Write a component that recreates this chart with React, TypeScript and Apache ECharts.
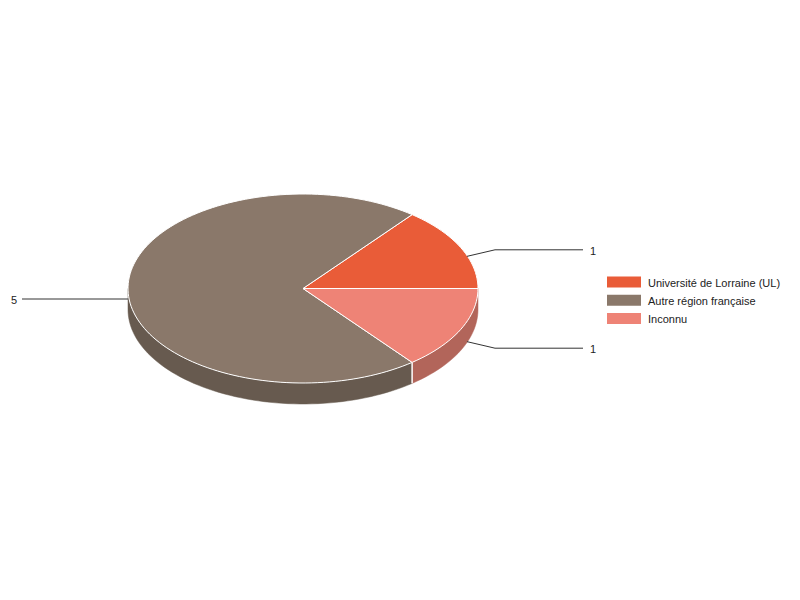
import { useEffect, useRef } from 'react'
import * as echarts from 'echarts'

// données
const categories = ['Université de Lorraine (UL)', 'Autre région française', 'Inconnu']
const values = [1, 5, 1]
const topColors = ['#E95C38', '#8A786A', '#EE8376']
const sideColors = ['#AF452A', '#675A4F', '#B2655A']

// géométrie du camembert 3D
const CX = 303
const CY = 288.5
const RX = 175
const RY = 94.5
const DEPTH = 21

const total = values.reduce((a, b) => a + b, 0)
const starts: number[] = []
values.reduce((acc, v) => { starts.push(acc); return acc + v }, 0)

const pt = (deg: number, dy = 0): number[] => {
  const r = (deg * Math.PI) / 180
  return [CX + RX * Math.cos(r), CY + dy - RY * Math.sin(r)]
}

const arc = (a0: number, a1: number, dy = 0): number[][] => {
  const pts: number[][] = []
  const n = Math.max(2, Math.ceil(Math.abs(a1 - a0) / 2))
  for (let i = 0; i <= n; i++) pts.push(pt(a0 + ((a1 - a0) * i) / n, dy))
  return pts
}

const renderSlice = (params: any, api: any): any => {
  const i = params.dataIndex
  const a0 = (starts[i] / total) * 360
  const a1 = ((starts[i] + api.value(0)) / total) * 360
  const children: any[] = []

  // face latérale (partie avant seulement)
  const s0 = Math.max(a0, 180)
  const s1 = Math.min(a1, 360)
  if (s1 > s0) {
    const top = arc(s0, s1)
    const bottom = arc(s1, s0, DEPTH)
    children.push({
      type: 'polygon',
      z2: 1,
      shape: { points: top.concat(bottom) },
      style: { fill: sideColors[i], stroke: sideColors[i], lineWidth: 0.5 }
    })
    ;[a0, a1].forEach((a) => {
      if (a > 180 && a < 360) {
        const p = pt(a)
        children.push({
          type: 'line',
          z2: 2,
          shape: { x1: p[0], y1: p[1], x2: p[0], y2: p[1] + DEPTH },
          style: { stroke: '#ffffff', lineWidth: 1 }
        })
      }
    })
  }

  // face supérieure
  children.push({
    type: 'polygon',
    z2: 3,
    shape: { points: [[CX, CY]].concat(arc(a0, a1)) },
    style: { fill: topColors[i], stroke: '#ffffff', lineWidth: 1 }
  })

  // étiquette avec ligne de rappel
  const m = ((a0 + a1) / 2) * Math.PI / 180
  const cos = Math.cos(m)
  const sin = Math.sin(m)
  const right = cos >= 0
  const ax = CX + RX * (right ? 1.04 : 1.0) * cos
  const ay = CY + DEPTH / 2 - RY * 1.04 * sin
  const ly = CY + DEPTH / 2 - RY * 1.2 * sin
  const ex = right ? CX + 192 : Math.min(ax, CX - 192)
  const endX = right ? 583 : 22
  children.push({
    type: 'polyline',
    z2: 4,
    shape: { points: [[ax, ay], [ex, ly], [endX, ly]] },
    style: { stroke: '#333333', lineWidth: 1, fill: null }
  })
  children.push({
    type: 'text',
    z2: 4,
    style: {
      x: right ? 590 : 17,
      y: ly + 1,
      text: String(api.value(0)),
      fill: '#222222',
      font: '11px Arial, "Liberation Sans", sans-serif',
      align: right ? 'left' : 'right',
      verticalAlign: 'middle'
    }
  })

  return { type: 'group', children }
}

const App: React.FC = () => {
  const chartRef = useRef<HTMLDivElement | null>(null)

  useEffect(() => {
    if (chartRef.current === null) return
    const chart = echarts.init(chartRef.current, undefined, { renderer: 'svg' })

    // légende
    const legend: any[] = []
    categories.forEach((name, i) => {
      const y = 276.5 + i * 18.3
      legend.push({
        type: 'rect',
        shape: { x: 607, y, width: 34, height: 11 },
        style: { fill: topColors[i] }
      })
      legend.push({
        type: 'text',
        style: {
          x: 648,
          y: y + 6,
          text: name,
          fill: '#222222',
          font: '11px Arial, "Liberation Sans", sans-serif',
          verticalAlign: 'middle'
        }
      })
    })

    chart.setOption({
      animation: false,
      backgroundColor: '#ffffff',
      graphic: legend,
      series: [
        {
          type: 'custom',
          coordinateSystem: 'none',
          renderItem: renderSlice,
          data: values.map((v) => [v])
        }
      ]
    })

    return () => {
      chart.dispose()
    }
  }, [])

  return (
    <div
      ref={chartRef}
      style={{ position: 'absolute', left: 0, top: 0, width: 800, height: 600 }}
    ></div>
  )
}

export default App
